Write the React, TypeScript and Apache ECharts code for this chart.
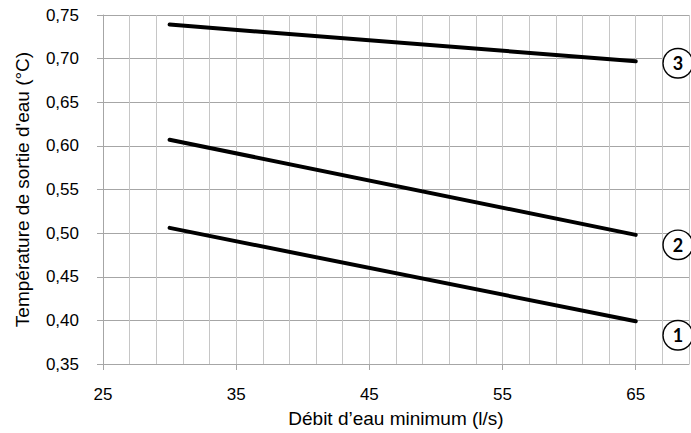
import React, { useEffect, useRef } from "react";
import * as echarts from "echarts";

const xLabelValues = [25, 35, 45, 55, 65];
const xGridValues = [25, 27, 29, 31, 33, 35, 37, 39, 41, 43, 45, 47, 49, 51, 53, 55, 57, 59, 61, 63, 65, 67, 69];
const debit = [30, 65];
const curve1 = [0.506, 0.399];
const curve2 = [0.607, 0.498];
const curve3 = [0.739, 0.697];
const curveNames = ["1", "2", "3"];
const labelOffsets = [[20, 14], [20, 10], [20, 2]];

const FONT = "Liberation Sans, Arial, sans-serif";

export default function App() {
  const ref = useRef<HTMLDivElement>(null);
  useEffect(() => {
    if (!ref.current) return;
    const chart = echarts.init(ref.current, null, { renderer: "svg" });
    const curves = [curve1, curve2, curve3];
    chart.setOption({
      animation: false,
      grid: { left: 103, right: 2, top: 15, bottom: 66, containLabel: false },
      xAxis: [
        {
          type: "value",
          min: 25,
          max: 69,
          name: "Débit d’eau minimum (l/s)",
          nameLocation: "middle",
          nameGap: 45,
          nameTextStyle: { fontFamily: FONT, fontSize: 19, color: "#000" },
          axisLine: { show: true, lineStyle: { color: "#a6a6a6", width: 1 } },
          axisTick: { show: false, customValues: xGridValues },
          axisLabel: {
            customValues: xLabelValues,
            margin: 22,
            fontFamily: FONT,
            fontSize: 17,
            color: "#000",
          },
          splitLine: { show: true, lineStyle: { color: "#c6c6c6", width: 1 } },
        },
        {
          type: "value",
          min: 25,
          max: 69,
          position: "bottom",
          axisLine: { show: false },
          axisTick: { show: true, inside: false, length: 6, customValues: xLabelValues, lineStyle: { color: "#a6a6a6" } },
          axisLabel: { show: false },
          splitLine: { show: false },
        },
      ],
      yAxis: {
        type: "value",
        min: 0.35,
        max: 0.75,
        interval: 0.05,
        name: "Température de sortie d'eau (°C)",
        nameLocation: "middle",
        nameGap: 71,
        nameTextStyle: { fontFamily: FONT, fontSize: 19, color: "#000" },
        axisLine: { show: true, lineStyle: { color: "#a6a6a6", width: 1 } },
        axisTick: { show: true, length: 6, lineStyle: { color: "#a6a6a6" } },
        axisLabel: {
          margin: 24,
          fontFamily: FONT,
          fontSize: 17,
          color: "#000",
          formatter: (v: number) => v.toFixed(2).replace(".", ","),
        },
        splitLine: { show: true, lineStyle: { color: "#a6a6a6", width: 1 } },
      },
      series: curves.map((c, i) => ({
        type: "line",
        name: curveNames[i],
        xAxisIndex: 0,
        data: debit.map((x, j) => [x, c[j]]),
        showSymbol: false,
        symbol: "none",
        lineStyle: { color: "#000", width: 4, cap: "round" },
        endLabel: {
          show: true,
          formatter: curveNames[i],
          offset: labelOffsets[i],
          fontFamily: "Lato, " + FONT,
          fontWeight: "bold",
          fontSize: 18,
          color: "#000",
          backgroundColor: "#fff",
          borderColor: "#000",
          borderWidth: 1.4,
          borderRadius: 15,
          padding: [5, 9, 5, 9],
          lineHeight: 18,
        },
      })),
    });
    return () => chart.dispose();
  }, []);
  return <div ref={ref} style={{ width: 691, height: 433, position: "absolute", left: 0, top: 0 }} />;
}
